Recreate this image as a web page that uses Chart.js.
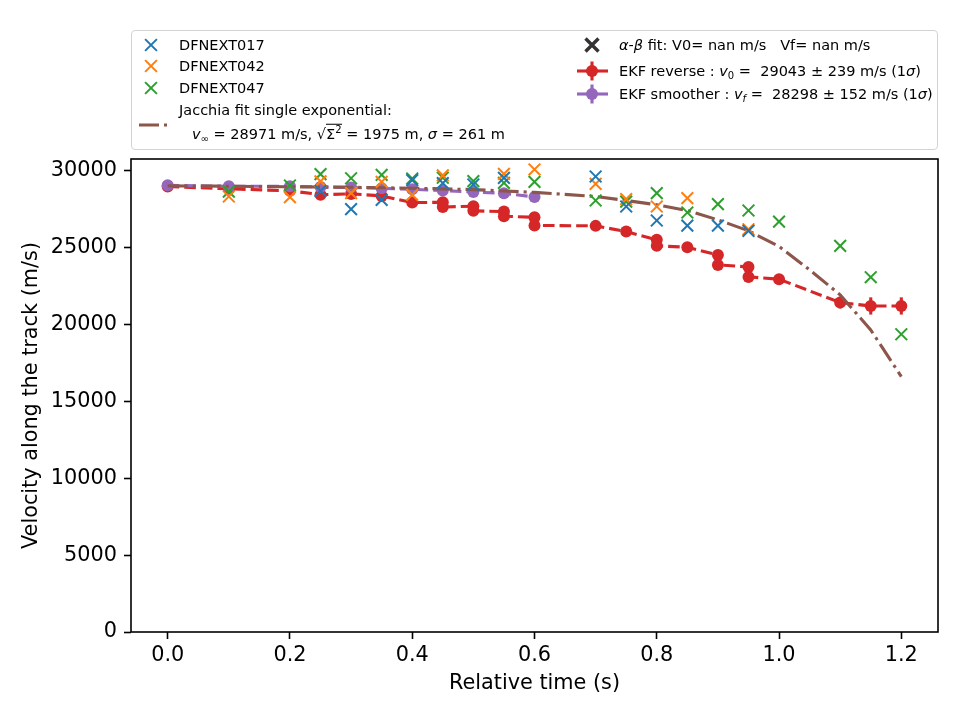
<!DOCTYPE html>
<html>
<head>
<meta charset="utf-8">
<script src="https://cdn.jsdelivr.net/npm/chart.js@4.4.0/dist/chart.umd.min.js"></script>
<style>
  body { margin: 0; background: #fff; }
  #wrap { position: relative; width: 960px; height: 720px; font-family: "DejaVu Sans", sans-serif; }
  #legend { position: absolute; left: 131px; top: 30px; width: 805px; height: 118px;
            border: 1.5px solid #d3d3d3; border-radius: 4px; background: rgba(255,255,255,0.8); }
  .item { position: absolute; font-size: 14.5px; white-space: pre; line-height: 1; transform: translateY(-50%); color: #000; }
  .item i { font-style: italic; }
  .item sub { font-size: 10px; vertical-align: -3px; line-height: 0; }
  .item sup { font-size: 10px; vertical-align: 6px; line-height: 0; }
  .ov { border-top: 1.2px solid #000; padding-top: 1px; }
  svg.mk { position: absolute; overflow: visible; }
</style>
</head>
<body>
<div id="wrap">
  <canvas id="chart" width="960" height="720"></canvas>
  <div id="legend"></div>

  <svg class="mk" style="left:0;top:0" width="960" height="160">
    <!-- column 1 markers -->
    <g stroke-width="2">
      <path d="M145.1 39.1 L156.9 50.9 M145.1 50.9 L156.9 39.1" stroke="#1f77b4"/>
      <path d="M145.1 60.1 L156.9 71.9 M145.1 71.9 L156.9 60.1" stroke="#ff7f0e"/>
      <path d="M145.1 82.1 L156.9 93.9 M145.1 93.9 L156.9 82.1" stroke="#2ca02c"/>
    </g>
    <line x1="139" y1="125" x2="167" y2="125" stroke="#8c564b" stroke-width="3.1" stroke-dasharray="20 5 3.1 5"/>
    <!-- column 2 markers -->
    <path d="M585.5 38.5 L598.5 51.5 M585.5 51.5 L598.5 38.5" stroke="#333" stroke-width="3.4"/>
    <line x1="577" y1="71" x2="608" y2="71" stroke="#d62728" stroke-width="3.1"/>
    <line x1="592" y1="61.5" x2="592" y2="80.5" stroke="#d62728" stroke-width="3.1"/>
    <circle cx="592" cy="71" r="6" fill="#d62728"/>
    <line x1="577" y1="94" x2="608" y2="94" stroke="#9467bd" stroke-width="3.1"/>
    <line x1="592" y1="84.5" x2="592" y2="103.5" stroke="#9467bd" stroke-width="3.1"/>
    <circle cx="592" cy="94" r="6" fill="#9467bd"/>
  </svg>

  <div class="item" style="left:179px;top:45px">DFNEXT017</div>
  <div class="item" style="left:179px;top:66px">DFNEXT042</div>
  <div class="item" style="left:179px;top:88px">DFNEXT047</div>
  <div class="item" style="left:179px;top:110px">Jacchia fit single exponential:</div>
  <div class="item" style="left:192px;top:134px"><i>v</i><sub>∞</sub> = 28971 m/s, √<span class="ov">Σ<sup>2</sup></span> = 1975 m, <i>σ</i> = 261 m</div>

  <div class="item" style="left:619px;top:45px"><i>α</i>-<i>β</i> fit: V0= nan m/s   Vf= nan m/s</div>
  <div class="item" style="left:619px;top:71px">EKF reverse : <i>v</i><sub>0</sub> =  29043 ± 239 m/s (1<i>σ</i>)</div>
  <div class="item" style="left:619px;top:94px">EKF smoother : <i>v</i><sub><i>f</i></sub> =  28298 ± 152 m/s (1<i>σ</i>)</div>
</div>

<script>
// DFNEXT017 (blue crosses)
const t017 = [0.25, 0.3, 0.35, 0.4, 0.45, 0.5, 0.55, 0.7, 0.75, 0.8, 0.85, 0.9, 0.95];
const v017 = [28700, 27510, 28110, 29400, 29200, 29110, 29540, 29630, 27680, 26770, 26440, 26440, 26090];

// DFNEXT042 (orange crosses)
const t042 = [0.1, 0.2, 0.25, 0.3, 0.35, 0.4, 0.45, 0.55, 0.6, 0.7, 0.75, 0.8, 0.85, 0.95];
const v042 = [28330, 28285, 29320, 28550, 29280, 28440, 29700, 29800, 30090, 29150, 28160, 27680, 28220, 26200];

// DFNEXT047 (green crosses)
const t047 = [0.1, 0.2, 0.25, 0.3, 0.35, 0.4, 0.45, 0.5, 0.55, 0.6, 0.7, 0.75, 0.8, 0.85, 0.9, 0.95, 1.0, 1.1, 1.15, 1.2];
const v047 = [28650, 29045, 29790, 29520, 29740, 29500, 29550, 29330, 29220, 29280, 28070, 28000, 28550, 27290, 27830, 27420, 26700, 25120, 23080, 19370];

// Jacchia fit single exponential
const tJac = [0, 0.1, 0.2, 0.3, 0.4, 0.5, 0.6, 0.7, 0.75, 0.8, 0.85, 0.9, 0.95, 1.0, 1.05, 1.1, 1.15, 1.2];
const vJac = [29020, 29000, 28960, 28930, 28870, 28780, 28600, 28330, 28070, 27790, 27420, 26810, 26100, 25080, 23560, 21930, 19650, 16610];

// EKF reverse
const tRev = [0, 0.1, 0.2, 0.25, 0.3, 0.35, 0.4, 0.45, 0.45, 0.5, 0.5, 0.55, 0.55, 0.6, 0.6, 0.7, 0.75, 0.8, 0.8, 0.85, 0.9, 0.9, 0.95, 0.95, 1.0, 1.1, 1.15, 1.2];
const vRev = [28980, 28830, 28700, 28450, 28500, 28370, 27940, 27950, 27650, 27700, 27400, 27350, 27050, 26980, 26450, 26420, 26050, 25510, 25120, 25030, 24530, 23880, 23750, 23100, 22950, 21430, 21210, 21210];
const eRev = [239, 240, 240, 240, 240, 240, 240, 250, 250, 250, 250, 250, 250, 260, 260, 260, 270, 270, 270, 280, 290, 290, 300, 300, 320, 380, 560, 560];

// EKF smoother
const tSm = [0, 0.1, 0.2, 0.25, 0.3, 0.35, 0.4, 0.45, 0.5, 0.55, 0.6];
const vSm = [29060, 28990, 29000, 28950, 28920, 28860, 28800, 28720, 28620, 28540, 28300];

const xTicks = [0, 0.2, 0.4, 0.6, 0.8, 1.0, 1.2];
const yTicks = [0, 5000, 10000, 15000, 20000, 25000, 30000];

function pts(t, v) {
  return t.map((x, i) => ({ x: x, y: v[i] }));
}

function crosses(label, color, t, v) {
  return {
    label: label,
    data: pts(t, v),
    showLine: false,
    pointStyle: 'crossRot',
    pointRadius: 8.3,
    pointBorderWidth: 2,
    borderColor: color,
    backgroundColor: color,
    order: 0,
  };
}

// vertical error bars for EKF reverse, drawn with the y scale
const errorBars = {
  id: 'errorBars',
  beforeDatasetsDraw(chart) {
    const meta = chart.getDatasetMeta(4);
    const y = chart.scales.y;
    const ctx = chart.ctx;
    ctx.save();
    ctx.strokeStyle = '#d62728';
    ctx.lineWidth = 3.1;
    meta.data.forEach((p, i) => {
      ctx.beginPath();
      ctx.moveTo(p.x, y.getPixelForValue(vRev[i] - eRev[i]));
      ctx.lineTo(p.x, y.getPixelForValue(vRev[i] + eRev[i]));
      ctx.stroke();
    });
    ctx.restore();
  },
};

const frame = {
  id: 'frame',
  afterDatasetsDraw(chart) {
    const a = chart.chartArea;
    const ctx = chart.ctx;
    ctx.save();
    ctx.strokeStyle = '#000';
    ctx.lineWidth = 1.6;
    ctx.strokeRect(a.left, a.top, a.right - a.left, a.bottom - a.top);
    ctx.restore();
  },
};

Chart.defaults.font.family = '"DejaVu Sans", sans-serif';
Chart.defaults.color = '#000';

const ctx = document.getElementById('chart').getContext('2d');
new Chart(ctx, {
  type: 'scatter',
  data: {
    datasets: [
      crosses('DFNEXT017', '#1f77b4', t017, v017),
      crosses('DFNEXT042', '#ff7f0e', t042, v042),
      crosses('DFNEXT047', '#2ca02c', t047, v047),
      {
        label: 'Jacchia fit single exponential',
        data: pts(tJac, vJac),
        showLine: true,
        pointRadius: 0,
        borderColor: '#8c564b',
        borderWidth: 3.1,
        borderDash: [20, 5, 3.1, 5],
        order: 3,
      },
      {
        label: 'EKF reverse',
        data: pts(tRev, vRev),
        showLine: true,
        pointRadius: 6,
        pointBorderWidth: 0,
        pointBackgroundColor: '#d62728',
        borderColor: '#d62728',
        borderWidth: 3.1,
        borderDash: [11.6, 5],
        order: 5,
      },
      {
        label: 'EKF smoother',
        data: pts(tSm, vSm),
        showLine: true,
        pointRadius: 6,
        pointBorderWidth: 0,
        pointBackgroundColor: '#9467bd',
        borderColor: '#9467bd',
        borderWidth: 3.1,
        borderDash: [11.6, 5],
        order: 4,
      },
    ],
  },
  options: {
    responsive: false,
    animation: false,
    layout: { padding: { top: 159, right: 22, left: 0, bottom: 0 } },
    plugins: { legend: { display: false }, tooltip: { enabled: false } },
    scales: {
      x: {
        type: 'linear',
        min: -0.06,
        max: 1.26,
        afterBuildTicks: (s) => { s.ticks = xTicks.map((v) => ({ value: v })); },
        afterFit: (s) => { s.height = 88; },
        grid: { drawOnChartArea: false, drawTicks: true, tickLength: 7, tickWidth: 1.6, tickColor: '#000' },
        border: { display: false },
        ticks: { font: { size: 20.8 }, padding: 4, maxRotation: 0, callback: (v) => v.toFixed(1) },
        title: { display: true, text: 'Relative time (s)', font: { size: 20.8 }, padding: { top: 0, bottom: 23.5 } },
      },
      y: {
        type: 'linear',
        min: 0,
        max: 30770,
        afterBuildTicks: (s) => { s.ticks = yTicks.map((v) => ({ value: v })); },
        afterFit: (s) => { s.width = 131; },
        grid: { drawOnChartArea: false, drawTicks: true, tickLength: 7, tickWidth: 1.6, tickColor: '#000' },
        border: { display: false },
        ticks: { font: { size: 20.8 }, padding: 7, callback: (v) => String(v) },
        title: { display: true, text: 'Velocity along the track (m/s)', font: { size: 20.8 }, padding: { top: 19.5, bottom: 0 } },
      },
    },
  },
  plugins: [errorBars, frame],
});
</script>
</body>
</html>
